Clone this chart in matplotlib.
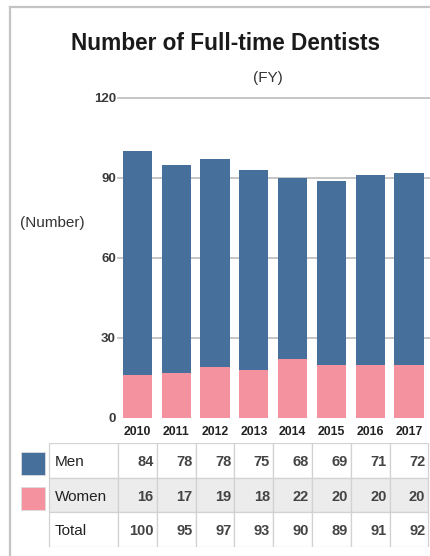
import matplotlib
matplotlib.use("Agg")
import matplotlib.pyplot as plt
from matplotlib.patches import Rectangle
from matplotlib.lines import Line2D

plt.rcParams['font.family'] = ['Liberation Sans', 'DejaVu Sans']

years = ["2010", "2011", "2012", "2013", "2014", "2015", "2016", "2017"]
men = [84, 78, 78, 75, 68, 69, 71, 72]
women = [16, 17, 19, 18, 22, 20, 20, 20]
total = [100, 95, 97, 93, 90, 89, 91, 92]
yticks = [0, 30, 60, 90, 120]
row_names = ["Men", "Women", "Total"]

BLUE = "#46709b"
PINK = "#f4939f"
GRID = "#bcbcbc"

W, H = 430, 556
fig = plt.figure(figsize=(W / 100, H / 100), dpi=100)
fig.patch.set_facecolor("white")

# frame (top and left lines)
fig.add_artist(Line2D([10 / W, 10 / W], [0, 1 - 7 / H], color="#c4c4c4", lw=1.6,
                      transform=fig.transFigure))
fig.add_artist(Line2D([10 / W, 1], [1 - 7 / H, 1 - 7 / H], color="#c4c4c4", lw=1.6,
                      transform=fig.transFigure))

# main axes
ax_left, ax_right, ax_bottom, ax_top = 118, 430, 418, 98
ax = fig.add_axes([ax_left / W, 1 - ax_bottom / H, (ax_right - ax_left) / W,
                   (ax_bottom - ax_top) / H])
x = list(range(len(years)))
ax.bar(x, women, width=0.75, color=PINK, zorder=3)
ax.bar(x, men, width=0.75, bottom=women, color=BLUE, zorder=3)
ax.set_xlim(-0.5, 7.54)
ax.set_ylim(0, 120)
ax.set_yticks(yticks)
ax.set_yticklabels([str(v) for v in yticks], fontsize=9.5, fontweight="bold", color="#3a3a3a")
ax.set_xticks(x)
ax.set_xticklabels(years, fontsize=8.8, fontweight="bold", color="#222222")
ax.tick_params(axis="both", length=0)
ax.tick_params(axis="y", pad=1.5)
ax.tick_params(axis="x", pad=6)
for s in ax.spines.values():
    s.set_visible(False)
for v in yticks[1:]:
    ax.axhline(v, color=GRID, lw=1.2, zorder=1, clip_on=False)

# titles
fig.text(225 / W, 1 - 43 / H, "Number of Full-time Dentists", ha="center", va="center",
         fontsize=16.3, fontweight="bold", color="#1a1a1a")
fig.text(268 / W, 1 - 78 / H, "(FY)", ha="center", va="center", fontsize=11, color="#333333")
fig.text(20 / W, 1 - 223 / H, "(Number)", ha="left", va="center", fontsize=11, color="#333333")

# table axes (same x units as main axes)
u = (ax_right - ax_left) / (7.54 + 0.5)
c0 = ax_left + 0.5 * u
tb_top, tb_bottom = 443, 547
tax = fig.add_axes([0, 1 - tb_bottom / H, 1, (tb_bottom - tb_top) / H])
tax.set_xlim(-0.5 - ax_left / u, 7.54)
tax.set_ylim(3, 0)
tax.axis("off")

label_left = (49 - c0) / u
values = [men, women, total]
row_bg = ["white", "#ececec", "white"]
swatch = [BLUE, PINK, None]
for r, name in enumerate(row_names):
    tax.add_patch(Rectangle((label_left, r), -0.5 - label_left, 1, facecolor=row_bg[r],
                            edgecolor="#d2d2d2", lw=0.9))
    tax.text(label_left + 0.15, r + 0.55, name, ha="left", va="center", fontsize=11,
             color="#222222")
    for i, v in enumerate(values[r]):
        tax.add_patch(Rectangle((i - 0.5, r), 1, 1, facecolor=row_bg[r],
                                edgecolor="#d2d2d2", lw=0.9))
        tax.text(i + 0.42, r + 0.55, str(v), ha="right", va="center", fontsize=10.5,
                 fontweight="bold", color="#444444")
    if swatch[r]:
        sx0 = (21 - c0) / u
        sx1 = (45 - c0) / u
        tax.add_patch(Rectangle((sx0, r + 0.26), sx1 - sx0, 0.66, facecolor=swatch[r],
                                edgecolor="#dcdcdc", lw=0.6))

fig.savefig("out.png", dpi=100, facecolor="white")
